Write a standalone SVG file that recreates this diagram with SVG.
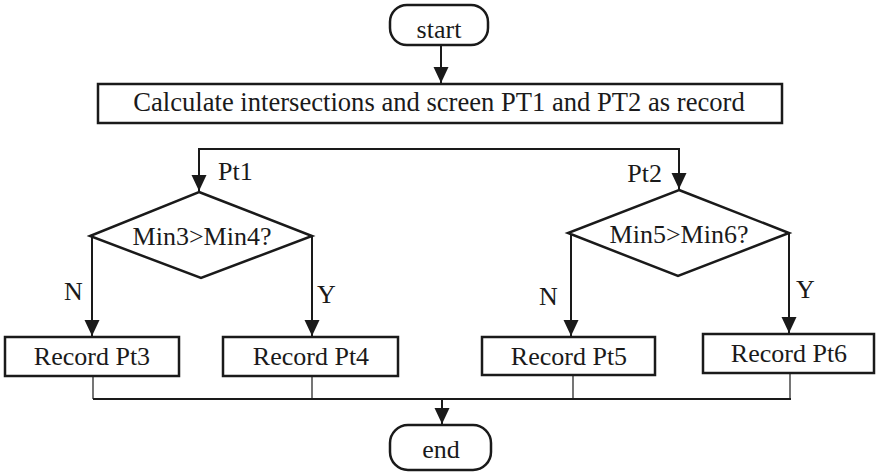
<svg xmlns="http://www.w3.org/2000/svg" width="876" height="473" viewBox="0 0 876 473">
  <style>
    text { font-family: "Liberation Serif", Tinos, "Times New Roman", "DejaVu Serif", serif; font-size: 26px; fill: #1a1a1a; }
    .mid { text-anchor: middle; }
    .title { font-size: 26.6px; }
    .shape { fill: #ffffff; stroke: #1a1a1a; stroke-width: 2.5; }
    .flow { fill: none; stroke: #1a1a1a; stroke-width: 2; }
    .thin { fill: none; stroke: #1a1a1a; stroke-width: 1.2; }
    .bus { fill: none; stroke: #1a1a1a; stroke-width: 1.8; }
  </style>
  <defs>
    <marker id="arrow" markerUnits="userSpaceOnUse" markerWidth="16" markerHeight="16" refX="16" refY="7.5" orient="auto">
      <path d="M0,0 L16,7.5 L0,15 Z" fill="#1a1a1a"/>
    </marker>
  </defs>

  <rect width="876" height="473" fill="#ffffff"/>

  <g id="connectors">
    <path class="flow" d="M441,45 V83" marker-end="url(#arrow)"/>
    <path class="bus" d="M199,149 H679"/>
    <path class="flow" d="M199,148 V191" marker-end="url(#arrow)"/>
    <path class="flow" d="M679,148 V189" marker-end="url(#arrow)"/>
    <path class="flow" d="M92,236 V336" marker-end="url(#arrow)"/>
    <path class="flow" d="M312,236 V336" marker-end="url(#arrow)"/>
    <path class="flow" d="M571,233 V336" marker-end="url(#arrow)"/>
    <path class="flow" d="M789,233 V333" marker-end="url(#arrow)"/>
    <path class="thin" d="M93,376 V399"/>
    <path class="thin" d="M312,376 V399"/>
    <path class="thin" d="M573,375 V399"/>
    <path class="thin" d="M790,373 V399"/>
    <path class="bus" d="M93,399 H791"/>
    <path class="flow" d="M442,399 V424" marker-end="url(#arrow)"/>
    <text x="64" y="300">N</text>
    <text x="317" y="303">Y</text>
    <text x="539" y="305">N</text>
    <text x="796" y="298">Y</text>
    <text x="218" y="180">Pt1</text>
    <text x="662" y="182" text-anchor="end">Pt2</text>
  </g>

  <g id="start">
    <rect class="shape" x="390" y="5" width="98" height="40" rx="17"/>
    <text class="mid" x="439" y="38">start</text>
  </g>

  <g id="calculate">
    <rect class="shape" x="98" y="84" width="684" height="39"/>
    <text class="mid title" x="439" y="111">Calculate intersections and screen PT1 and PT2 as record</text>
  </g>

  <g id="decision-1">
    <polygon class="shape" points="199,192 312,236 201,278 90,236"/>
    <text class="mid" x="202" y="245">Min3&gt;Min4?</text>
  </g>

  <g id="decision-2">
    <polygon class="shape" points="679,190 789,233 678,276 568,233"/>
    <text class="mid" x="679" y="243">Min5&gt;Min6?</text>
  </g>

  <g id="record-pt3">
    <rect class="shape" x="5" y="337" width="174" height="39"/>
    <text class="mid" x="92" y="365">Record Pt3</text>
  </g>

  <g id="record-pt4">
    <rect class="shape" x="223" y="337" width="175" height="39"/>
    <text class="mid" x="311" y="365">Record Pt4</text>
  </g>

  <g id="record-pt5">
    <rect class="shape" x="482" y="337" width="173" height="38"/>
    <text class="mid" x="569" y="365">Record Pt5</text>
  </g>

  <g id="record-pt6">
    <rect class="shape" x="703" y="334" width="171" height="39"/>
    <text class="mid" x="789" y="362">Record Pt6</text>
  </g>

  <g id="end">
    <rect class="shape" x="390" y="425" width="101" height="45" rx="18"/>
    <text class="mid" x="441" y="458">end</text>
  </g>
</svg>
